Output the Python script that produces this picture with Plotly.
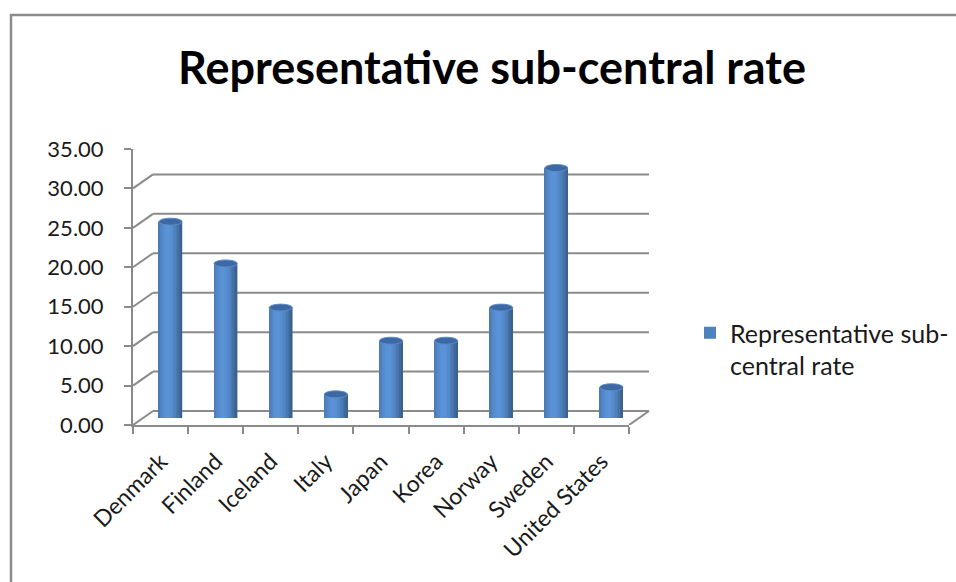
import plotly.graph_objects as go
import math

# ---- data ----
countries = ["Denmark", "Finland", "Iceland", "Italy", "Japan",
             "Korea", "Norway", "Sweden", "United States"]
rates = [24.9, 19.6, 14.0, 3.0, 9.8, 9.8, 14.0, 31.7, 3.9]
y_ticks = [0, 5, 10, 15, 20, 25, 30, 35]
series_name = "Representative sub-central rate"
chart_title = "Representative sub-central rate"

# ---- geometry (page pixels) ----
W, H = 956, 582
FONT = "Lato"
GRID = "#8a8a8a"


def fx(px):
    return px / W


def fy(py):
    return 1 - py / H


# front face of the 3D box
FL, FR, FB, FT = 133, 629, 425, 149
# depth offset of the back wall
DX, DY = 20, 14
# bars stand at half depth
BX, BY = DX / 2, DY / 2
BAR_W = 0.42          # in category units
SLOT_PX = (FR - FL) / len(countries)
BAR_PX = BAR_W * SLOT_PX
N_STRIPS = 16
BASE = (79, 129, 189)


def shade(t):
    f = 0.80 + 0.34 * math.cos(math.pi * (t - 0.40) * 0.95)
    r, g, b = (min(255, int(c * f)) for c in BASE)
    return f"rgb({r},{g},{b})"


fig = go.Figure()

# base bar (also the legend entry)
fig.add_trace(go.Bar(
    x=list(range(len(countries))), y=rates, xaxis="x2", yaxis="y2",
    width=BAR_W, marker=dict(color="#4f81bd", line=dict(width=0)),
    name="Representative sub-<br>central rate", showlegend=True,
    hoverinfo="skip",
))

# cylinder shading strips
for k in range(N_STRIPS):
    t = (k + 0.5) / N_STRIPS
    fig.add_trace(go.Bar(
        x=list(range(len(countries))), y=rates, xaxis="x2", yaxis="y2",
        offset=-BAR_W / 2 + k * BAR_W / N_STRIPS,
        width=BAR_W / N_STRIPS + (0.004 if k < N_STRIPS - 1 else 0),
        marker=dict(color=shade(t), line=dict(width=0)),
        showlegend=False, hoverinfo="skip",
    ))

shapes = []

# back wall gridlines
for v in y_ticks:
    shapes.append(dict(
        type="line", xref="paper", yref="y", layer="below",
        x0=fx(FL + DX), x1=fx(FR + DX),
        ysizemode="pixel", yanchor=v, y0=DY, y1=DY,
        line=dict(color=GRID, width=2),
    ))
    # side wall diagonals
    shapes.append(dict(
        type="line", xref="paper", yref="y", layer="below",
        xsizemode="pixel", xanchor=fx(FL), x0=0, x1=DX,
        ysizemode="pixel", yanchor=v, y0=0, y1=DY,
        line=dict(color=GRID, width=2),
    ))

# right edge of the floor
shapes.append(dict(
    type="line", xref="paper", yref="y", layer="below",
    xsizemode="pixel", xanchor=fx(FR), x0=0, x1=DX,
    ysizemode="pixel", yanchor=0, y0=0, y1=DY,
    line=dict(color=GRID, width=2),
))

# cylinder bottoms and tops
for i, v in enumerate(rates):
    shapes.append(dict(
        type="circle", xref="x2", yref="y2", layer="below",
        xsizemode="pixel", xanchor=i, x0=-BAR_PX / 2, x1=BAR_PX / 2,
        ysizemode="pixel", yanchor=0, y0=-3.5, y1=3.5,
        fillcolor="rgb(76,124,184)", line=dict(width=0),
    ))
    shapes.append(dict(
        type="circle", xref="x2", yref="y2", layer="above",
        xsizemode="pixel", xanchor=i, x0=-BAR_PX / 2, x1=BAR_PX / 2,
        ysizemode="pixel", yanchor=v, y0=-3.5, y1=3.5,
        fillcolor="rgb(60,104,164)", line=dict(color="rgb(92,140,200)", width=1),
    ))

# chart frame
shapes.append(dict(
    type="rect", xref="paper", yref="paper", layer="below",
    x0=fx(11), x1=fx(1000), y0=fy(15), y1=fy(700),
    line=dict(color="#8c8c8c", width=2.5), fillcolor="rgba(0,0,0,0)",
))

fig.update_layout(
    width=W, height=H,
    margin=dict(l=0, r=0, t=0, b=0, autoexpand=False),
    paper_bgcolor="white", plot_bgcolor="rgba(0,0,0,0)",
    barmode="overlay",
    font=dict(family=FONT, color="#000000"),
    shapes=shapes,
    title=dict(
        text=f"<b>{chart_title}</b>", x=fx(492), xanchor="center",
        y=fy(68), yanchor="middle",
        font=dict(family=FONT, size=45, color="#000000"),
    ),
    xaxis=dict(
        domain=[fx(FL), fx(FR)], anchor="y", automargin=False,
        type="category", tickmode="array",
        tickvals=list(range(len(countries))), ticktext=countries,
        range=[-0.5, len(countries) - 0.5],
        showline=True, linecolor=GRID, linewidth=2,
        ticks="outside", tickson="boundaries", ticklen=7,
        tickcolor=GRID, tickwidth=2,
        tickangle=-45, tickfont=dict(size=23, family=FONT, color="#1a1a1a"),
        ticklabelstandoff=12,
        showgrid=False, zeroline=False,
    ),
    yaxis=dict(
        domain=[fy(FB), fy(FT)], anchor="x", automargin=False,
        range=[0, 35], tickvals=y_ticks, tickformat=".2f",
        showline=True, linecolor=GRID, linewidth=2,
        ticks="outside", ticklen=7, tickcolor=GRID, tickwidth=2,
        tickfont=dict(size=22, family=FONT, color="#1a1a1a"),
        ticklabelstandoff=16,
        showgrid=False, zeroline=False,
    ),
    xaxis2=dict(
        domain=[fx(FL + BX), fx(FR + BX)], anchor="y2", automargin=False,
        range=[-0.5, len(countries) - 0.5], visible=False,
    ),
    yaxis2=dict(
        domain=[fy(FB - BY), fy(FT - BY)], anchor="x2", automargin=False,
        range=[0, 35], visible=False,
    ),
    legend=dict(
        x=fx(690), y=fy(310), xanchor="left", yanchor="top",
        font=dict(size=25, family=FONT, color="#1a1a1a"), valign="top",
        bgcolor="rgba(0,0,0,0)",
    ),
)

fig.write_html("out.html")
